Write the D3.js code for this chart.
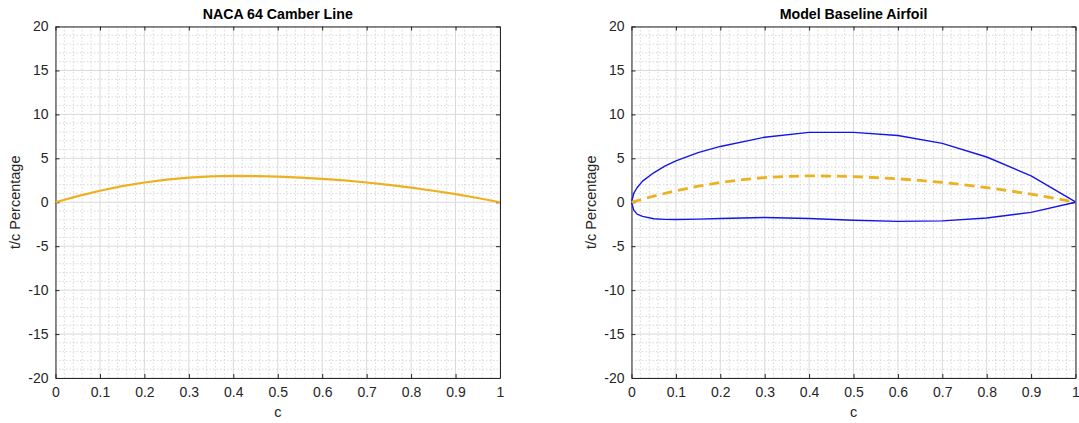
<!DOCTYPE html>
<html>
<head>
<meta charset="utf-8">
<script src="https://cdn.jsdelivr.net/npm/d3@7"></script>
<style>
  body { margin: 0; background: #fff; }
  svg { display: block; font-family: "Liberation Sans", Arial, sans-serif; }
</style>
</head>
<body>
<div id="chart"></div>
<script>
// camber line (t/c %)
const camberX = [0, 0.05, 0.1, 0.15, 0.2, 0.25, 0.3, 0.35, 0.4, 0.45, 0.5,
  0.55, 0.6, 0.65, 0.7, 0.75, 0.8, 0.85, 0.9, 0.95, 1];
const camberY = [0, 0.70, 1.31, 1.83, 2.25, 2.58, 2.81, 2.95, 3.0, 2.98, 2.92,
  2.81, 2.67, 2.48, 2.25, 1.98, 1.67, 1.31, 0.92, 0.48, 0];

// airfoil surfaces
const surfX = [0, 0.005, 0.0125, 0.025, 0.05, 0.075, 0.1, 0.15, 0.2, 0.3, 0.4,
  0.5, 0.6, 0.7, 0.8, 0.9, 1];
const upperY = [0, 1.0, 1.65, 2.4, 3.35, 4.1, 4.7, 5.65, 6.35, 7.4, 7.95,
  7.95, 7.6, 6.7, 5.15, 3.0, 0.05];
const lowerY = [0, -0.9, -1.35, -1.6, -1.88, -1.95, -1.97, -1.92, -1.85, -1.73, -1.85,
  -2.05, -2.18, -2.12, -1.8, -1.15, 0];

const xTicks = [0, 0.1, 0.2, 0.3, 0.4, 0.5, 0.6, 0.7, 0.8, 0.9, 1];
const yTicks = [-20, -15, -10, -5, 0, 5, 10, 15, 20];

const W = 1079, H = 423;
const plotTop = 26.5, plotBottom = 378;
const axisColor = "#262626";
const orange = "#EDB120";
const blue = "#1515e8";

const svg = d3.select("#chart").append("svg")
  .attr("width", W)
  .attr("height", H);

const zip = (xs, ys) => xs.map((x, i) => ({ x: x, y: ys[i] }));

const drawPanel = (left, right, title, series) => {
  const x = d3.scaleLinear().domain([0, 1]).range([left, right]);
  const y = d3.scaleLinear().domain([-20, 20]).range([plotBottom, plotTop]);
  const g = svg.append("g");

  // minor grid (dotted)
  g.append("g").selectAll("line")
    .data(d3.range(0, 1.0001, 0.02).filter((d, i) => i % 5 !== 0))
    .join("line")
    .attr("x1", d => x(d)).attr("x2", d => x(d))
    .attr("y1", plotTop).attr("y2", plotBottom)
    .attr("stroke", "#cfcfcf").attr("stroke-width", 0.8)
    .attr("stroke-dasharray", "1.5,2");
  g.append("g").selectAll("line")
    .data(d3.range(-20, 20.001, 1).filter(d => d % 5 !== 0))
    .join("line")
    .attr("x1", left).attr("x2", right)
    .attr("y1", d => y(d)).attr("y2", d => y(d))
    .attr("stroke", "#cfcfcf").attr("stroke-width", 0.8)
    .attr("stroke-dasharray", "1.5,2");

  // major grid
  g.append("g").selectAll("line")
    .data(xTicks)
    .join("line")
    .attr("x1", d => x(d)).attr("x2", d => x(d))
    .attr("y1", plotTop).attr("y2", plotBottom)
    .attr("stroke", "#d9d9d9").attr("stroke-width", 1);
  g.append("g").selectAll("line")
    .data(yTicks)
    .join("line")
    .attr("x1", left).attr("x2", right)
    .attr("y1", d => y(d)).attr("y2", d => y(d))
    .attr("stroke", "#d9d9d9").attr("stroke-width", 1);

  // axes (ticks inside, box on)
  const xAxis = d3.axisBottom(x).tickValues(xTicks).tickSizeInner(-4).tickSizeOuter(0)
    .tickPadding(9).tickFormat(d => String(d));
  const yAxis = d3.axisLeft(y).tickValues(yTicks).tickSizeInner(-4).tickSizeOuter(0)
    .tickPadding(7).tickFormat(d => String(d));   // plain hyphen minus, like the original
  const xAxisTop = d3.axisTop(x).tickValues(xTicks).tickSizeInner(-4).tickSizeOuter(0).tickFormat("");
  const yAxisRight = d3.axisRight(y).tickValues(yTicks).tickSizeInner(-4).tickSizeOuter(0).tickFormat("");

  const styleAxis = a => {
    a.selectAll("path, line").attr("stroke", axisColor);
    a.selectAll("text").attr("fill", axisColor).style("font-size", "14px")
      .style("font-family", "Liberation Sans, Arial, sans-serif");
  };

  g.append("g").attr("transform", `translate(0,${plotBottom})`).call(xAxis).call(styleAxis);
  g.append("g").attr("transform", `translate(${left},0)`).call(yAxis).call(styleAxis);
  g.append("g").attr("transform", `translate(0,${plotTop})`).call(xAxisTop).call(styleAxis);
  g.append("g").attr("transform", `translate(${right},0)`).call(yAxisRight).call(styleAxis);

  // lines
  const line = d3.line().x(d => x(d.x)).y(d => y(d.y));
  series.forEach(s => {
    g.append("path")
      .datum(s.data)
      .attr("fill", "none")
      .attr("stroke", s.color)
      .attr("stroke-width", s.width)
      .attr("stroke-dasharray", s.dash || null)
      .attr("stroke-linejoin", "round")
      .attr("d", line);
  });

  // title and labels
  g.append("text")
    .attr("x", (left + right) / 2)
    .attr("y", 19)
    .attr("text-anchor", "middle")
    .attr("font-size", "14.2px")
    .attr("font-weight", "bold")
    .attr("fill", "#000")
    .text(title);

  g.append("text")
    .attr("x", (left + right) / 2)
    .attr("y", 417)
    .attr("text-anchor", "middle")
    .attr("font-size", "14.5px")
    .attr("fill", axisColor)
    .text("c");

  g.append("text")
    .attr("transform", `translate(${left - 36},${(plotTop + plotBottom) / 2}) rotate(-90)`)
    .attr("text-anchor", "middle")
    .attr("font-size", "14.5px")
    .attr("fill", axisColor)
    .text("t/c Percentage");
};

drawPanel(55.5, 500, "NACA 64 Camber Line", [
  { data: zip(camberX, camberY), color: orange, width: 2.2 }
]);

drawPanel(631.5, 1075.5, "Model Baseline Airfoil", [
  { data: zip(surfX, upperY), color: blue, width: 1.4 },
  { data: zip(surfX, lowerY), color: blue, width: 1.4 },
  { data: zip(camberX, camberY), color: orange, width: 2.8, dash: "10,6" }
]);
</script>
</body>
</html>
